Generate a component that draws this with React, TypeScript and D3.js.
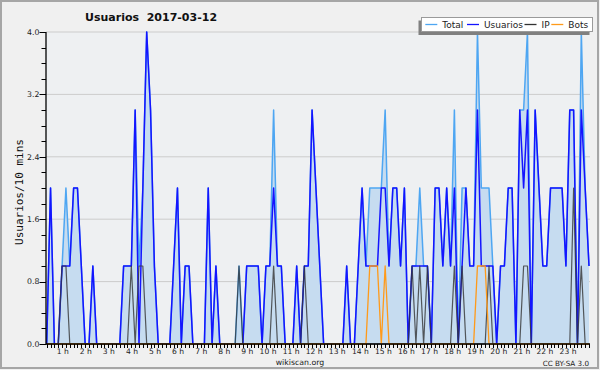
import React from "react";
import * as d3 from "d3";

const TITLE = "Usuarios  2017-03-12";
const Y_TITLE = "Usuarios/10 mins";
const HOUR_LABELS = ["1 h","2 h","3 h","4 h","5 h","6 h","7 h","8 h","9 h","10 h","11 h","12 h","13 h","14 h","15 h","16 h","17 h","18 h","19 h","20 h","21 h","22 h","23 h"];
const Y_TICKS = [0, 0.8, 1.6, 2.4, 3.2, 4.0];
const SERIES_NAMES = ["Total", "Usuarios", "IP", "Bots"];

const total = [
  0,2,0,0,1,2,1,2,2,1,
  0,0,1,0,0,0,0,0,0,0,
  1,1,1,3,1,2,4,3,1,0,
  0,0,0,1,2,0,1,1,0,0,
  0,0,2,0,1,0,0,0,0,0,
  1,0,1,1,1,1,0,1,1,3,
  1,1,0,0,0,1,0,1,1,3,
  2,1,0,0,0,0,0,0,1,0,
  0,1,2,1,2,2,2,2,3,1,
  2,2,1,2,0,1,1,2,1,1,
  0,2,2,1,2,1,3,0,2,2,
  1,1,4,2,2,2,1,0,1,1,
  2,2,0,3,3,4,0,3,2,1,
  1,2,2,2,2,1,3,3,0,4,
  2,1
];
const usuarios = [
  0,2,0,0,1,1,1,2,2,1,
  0,0,1,0,0,0,0,0,0,0,
  1,1,1,3,0,2,4,3,1,0,
  0,0,0,1,2,0,1,1,0,0,
  0,0,2,0,1,0,0,0,0,0,
  0,0,1,1,1,1,0,1,1,2,
  1,1,0,0,0,1,0,1,1,3,
  2,1,0,0,0,0,0,0,1,0,
  0,1,2,1,1,1,1,2,2,1,
  2,2,1,2,0,1,1,1,1,1,
  0,2,2,1,2,1,2,0,1,2,
  1,1,3,1,1,1,1,0,1,1,
  2,2,0,3,2,3,0,3,2,1,
  1,2,2,2,2,1,3,3,0,3,
  2,1
];
const ip = [
  0,0,0,0,1,1,0,0,0,0,
  0,0,0,0,0,0,0,0,0,0,
  0,0,1,0,1,1,0,0,0,0,
  0,0,0,0,0,0,0,0,0,0,
  0,0,0,0,0,0,0,0,0,0,
  1,0,0,0,0,0,0,0,0,1,
  0,0,0,0,0,0,0,1,0,0,
  0,0,0,0,0,0,0,0,0,0,
  0,0,0,0,0,0,0,0,0,0,
  0,0,0,0,0,1,0,1,0,1,
  0,0,0,0,0,0,1,0,1,0,
  0,0,0,0,0,1,0,0,0,0,
  0,0,0,0,1,1,0,0,0,0,
  0,0,0,0,0,0,0,2,0,1,
  0,0
];
const bots = [
  0,0,0,0,0,0,0,0,0,0,
  0,0,0,0,0,0,0,0,0,0,
  0,0,0,0,0,0,0,0,0,0,
  0,0,0,0,0,0,0,0,0,0,
  0,0,0,0,0,0,0,0,0,0,
  0,0,0,0,0,0,0,0,0,0,
  0,0,0,0,0,0,0,0,0,0,
  0,0,0,0,0,0,0,0,0,0,
  0,0,0,0,1,1,1,0,1,0,
  0,0,0,0,0,0,0,0,0,0,
  0,0,0,0,0,0,0,0,0,0,
  0,0,1,1,1,0,0,0,0,0,
  0,0,0,0,0,0,0,0,0,0,
  0,0,0,0,0,0,0,0,0,0,
  0,0
];

const C_TOTAL = "#4ea6f2";
const C_FILL = "#c6dcf0";
const C_USU = "#1414ff";
const C_IP = "#333333";
const C_BOTS = "#ff9a1a";

const FONT = "'DejaVu Sans', Verdana, sans-serif";

export default function App() {
  const n = total.length;
  const x = d3.scaleLinear().domain([0, n - 1]).range([46.7, 589]);
  const y = d3.scaleLinear().domain([0, 4]).range([344, 32]);
  const mkLine = (arr: number[]) =>
    d3.line<number>().x((_, i) => x(i)).y((d) => y(d))(arr) || "";
  const areaPath =
    d3.area<number>().x((_, i) => x(i)).y0(y(0)).y1((d) => y(d))(total) || "";
  const minor = d3.range(0, 4.0001, 0.2);
  const idx = d3.range(0, n);

  const legend = [
    { name: SERIES_NAMES[0], color: C_TOTAL, tx: 442.3 },
    { name: SERIES_NAMES[1], color: C_USU, tx: 484 },
    { name: SERIES_NAMES[2], color: C_IP, tx: 541.5 },
    { name: SERIES_NAMES[3], color: C_BOTS, tx: 568.3 },
  ];

  return (
    <svg
      width={600}
      height={370}
      style={{ position: "absolute", left: 0, top: 0, display: "block" }}
    >
      <rect x={0} y={0} width={600} height={370} fill="#f0f0f0" />
      <rect x={1} y={1} width={597} height={367} fill="none" stroke="#a6a6a6" strokeWidth={2} />
      {/* plot background */}
      <rect x={46} y={32} width={544} height={312} fill="#eef0f2" />
      {/* grid */}
      {Y_TICKS.filter((t) => t > 0).map((t) => (
        <line key={"g" + t} x1={46} x2={590} y1={y(t)} y2={y(t)} stroke="#cccccc" strokeWidth={1} />
      ))}
      {/* area */}
      <path d={areaPath} fill={C_FILL} />
      <path d={mkLine(total)} fill="none" stroke={C_TOTAL} strokeWidth={1.5} strokeLinejoin="round" />
      <path d={mkLine(usuarios)} fill="none" stroke={C_USU} strokeWidth={1.5} strokeLinejoin="round" />
      <path d={mkLine(ip)} fill="none" stroke={C_IP} strokeWidth={1.2} strokeOpacity={0.8} strokeLinejoin="round" />
      <path d={mkLine(bots)} fill="none" stroke={C_BOTS} strokeWidth={1.3} strokeLinejoin="round" />

      {/* axes */}
      <line x1={46} x2={46} y1={32} y2={344.5} stroke="#000" strokeWidth={1.3} />
      <line x1={46} x2={590} y1={344} y2={344} stroke="#000" strokeWidth={1.5} />
      {minor.map((t) => (
        <line key={"m" + t} x1={41.5} x2={46} y1={Math.round(y(t)) + 0.5} y2={Math.round(y(t)) + 0.5} stroke="#000" strokeWidth={1} />
      ))}
      {Y_TICKS.map((t) => (
        <g key={"yt" + t}>
          <line x1={39.5} x2={46} y1={Math.round(y(t)) + 0.5} y2={Math.round(y(t)) + 0.5} stroke="#000" strokeWidth={1} />
          <text x={39.5} y={y(t) + 2.8} textAnchor="end" fontFamily={FONT} fontSize={7.8} fill="#222">
            {t.toFixed(1)}
          </text>
        </g>
      ))}
      {idx.map((i) => (
        <line key={"xt" + i} x1={Math.round(x(i)) + 0.5} x2={Math.round(x(i)) + 0.5} y1={344} y2={348} stroke="#000" strokeWidth={1} />
      ))}
      {HOUR_LABELS.map((lab, h) => (
        <text key={lab} x={x((h + 1) * 6) - 1} y={353.8} textAnchor="end" fontFamily={FONT} fontSize={7.6} fill="#222">
          {lab}
        </text>
      ))}

      {/* titles */}
      <text x={85} y={20.7} fontFamily={FONT} fontWeight="bold" fontSize={11} fill="#111" style={{ whiteSpace: "pre" }}>
        {TITLE}
      </text>
      <text
        transform="translate(22.5,192) rotate(-90)"
        textAnchor="middle"
        fontFamily="'DejaVu Sans Mono', monospace"
        fontSize={11}
        fill="#111"
      >
        {Y_TITLE}
      </text>
      <text x={300} y={364.5} textAnchor="middle" fontFamily={FONT} fontSize={7.8} fill="#222">
        wikiscan.org
      </text>
      <text x={589} y={365.5} textAnchor="end" fontFamily={FONT} fontSize={7.2} fill="#222">
        CC BY-SA 3.0
      </text>

      {/* legend */}
      <rect x={418.5} y={20.5} width={171} height={14.5} fill="#808080" />
      <rect x={421.5} y={17.5} width={171} height={14} fill="#ffffff" stroke="#9a9a9a" strokeWidth={1} />
      {legend.map((l) => (
        <g key={l.name}>
          <line x1={l.tx - 17} x2={l.tx - 5} y1={24.5} y2={24.5} stroke={l.color} strokeWidth={1.3} />
          <text x={l.tx} y={27.5} fontFamily={FONT} fontSize={9} fill="#222">
            {l.name}
          </text>
        </g>
      ))}
    </svg>
  );
}
